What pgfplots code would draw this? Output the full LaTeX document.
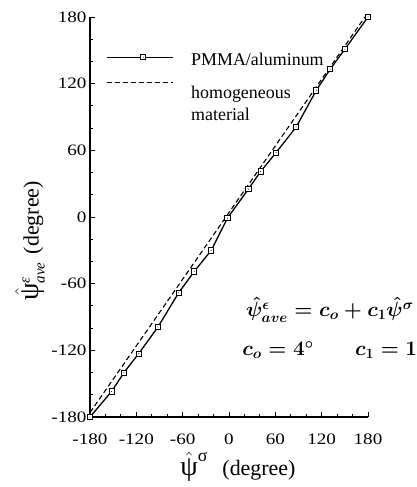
\documentclass[border=0pt]{standalone}
\usepackage[no-math]{fontspec}
\setmainfont{Liberation Serif}
\usepackage{graphicx}
\usepackage{pgfplots}
\pgfplotsset{compat=1.18}
\usepackage{pgfplotstable}

\pgfdeclareplotmark{sqdot}{%
  \pgfpathrectangle{\pgfqpoint{-\pgfplotmarksize}{-\pgfplotmarksize}}{\pgfqpoint{2\pgfplotmarksize}{2\pgfplotmarksize}}%
  \pgfusepathqfillstroke
  \begin{pgfscope}%
  \pgfsetfillcolor{black}%
  \pgfpathcircle{\pgfpointorigin}{0.5pt}%
  \pgfusepathqfill
  \end{pgfscope}%
}

\pgfplotsset{
  pmmaleg/.style={legend image code/.code={%
    \draw[mark repeat=2, mark phase=2, ##1] plot coordinates {(0bp,3bp) (36bp,3bp) (66bp,3bp)};
    \path[draw=none, fill=none] (0bp,0bp) rectangle (82bp,0bp);}},
  homleg/.style={legend image code/.code={%
    \draw[##1] (0bp,10bp) -- (66bp,10bp);
    \path[draw=none, fill=none] (0bp,0bp) rectangle (82bp,0bp);}},
}

\pgfplotstableread{
x y
-180 -180
-152 -157
-136 -140
-117 -123
-92 -99
-65 -68
-45 -49
-23 -30
-2 -1
25 25
41 41
61 58
87 81
113 114
131 133
150 151
180 180
}\datapmma

\pgfplotstableread{
x y
-180 -176
176 180
}\datahomog

\newcommand\tl[1]{\scalebox{1.2}[1]{#1}}
\newcommand\bigpsi{{\fontsize{28}{28}\selectfont$\hat{\mbox{ψ}}$}}

\begin{document}
\begin{tikzpicture}
\path[use as bounding box] (-90bp,-70bp) rectangle (327bp,417bp);
\begin{axis}[
  at={(0,0)}, anchor=south west,
  scale only axis, width=278bp, height=400bp,
  xmin=-180, xmax=180, ymin=-180, ymax=180,
  axis lines*=left,
  axis line style={line width=1.3bp},
  tick align=inside,
  xtick pos=left, ytick pos=left,
  major tick length=5bp, minor tick length=3bp,
  every tick/.style={black, line width=0.9bp},
  xtick={-180,-120,...,180}, ytick={-180,-120,...,180},
  minor tick num=2,
  xticklabels={\tl{-180},\tl{-120},\tl{-60},\tl{0},\tl{60},\tl{120},\tl{180}},
  yticklabels={\tl{-180},\tl{-120},\tl{-60},\tl{0},\tl{60},\tl{120},\tl{180}},
  tick label style={font=\fontsize{16}{16}\selectfont},
  xticklabel style={yshift=-13bp},
  clip=false,
  xlabel={\bigpsi\raisebox{14bp}{\fontsize{18}{18}\selectfont$\mbox{σ}$}\hspace{15bp}\fontsize{22}{22}\selectfont(degree)},
  xlabel style={at={(axis description cs:0.532,-0.125)}, anchor=center},
  legend style={draw=none, fill=none, at={(axis description cs:0.048,0.92)}, anchor=north west,
    font=\fontsize{18}{22}\selectfont, row sep=13bp},
  legend cell align=left,
]
\addplot[black, line width=1.3bp, mark=sqdot, mark size=2.6bp, mark options={fill=white, solid, line width=0.8bp}, pmmaleg]
  table[x=x, y=y] {\datapmma};
\addlegendentry{PMMA/aluminum}
\addplot[black, line width=1.1bp, dash pattern=on 5bp off 3bp, homleg]
  table[x=x, y=y] {\datahomog};
\addlegendentry{\vtop{\baselineskip=22bp\hbox{homogeneous}\hbox{material}}}

\node[rotate=90, anchor=center] at (rel axis cs:-0.2158,0.44)
  {\bigpsi{\fontsize{28}{28}\selectfont$^{\mbox{\fontsize{15}{15}\selectfont\itshape ε}}_{\mbox{\fontsize{15}{15}\selectfont\itshape ave}}$}\hspace{8bp}\fontsize{22}{22}\selectfont(degree)};

\node[anchor=center, font=\fontsize{22}{22}\selectfont\boldmath] at (rel axis cs:0.863,0.2675)
  {$\hat{\psi}^{\epsilon}_{ave} = c_o + c_1\hat{\psi}^{\sigma}$};
\node[anchor=center, font=\fontsize{22}{22}\selectfont\boldmath] at (rel axis cs:0.676,0.1675)
  {$c_o = 4^\circ$};
\node[anchor=center, font=\fontsize{22}{22}\selectfont\boldmath] at (rel axis cs:1.065,0.1675)
  {$c_1 = 1$};
\end{axis}
\end{tikzpicture}
\end{document}
